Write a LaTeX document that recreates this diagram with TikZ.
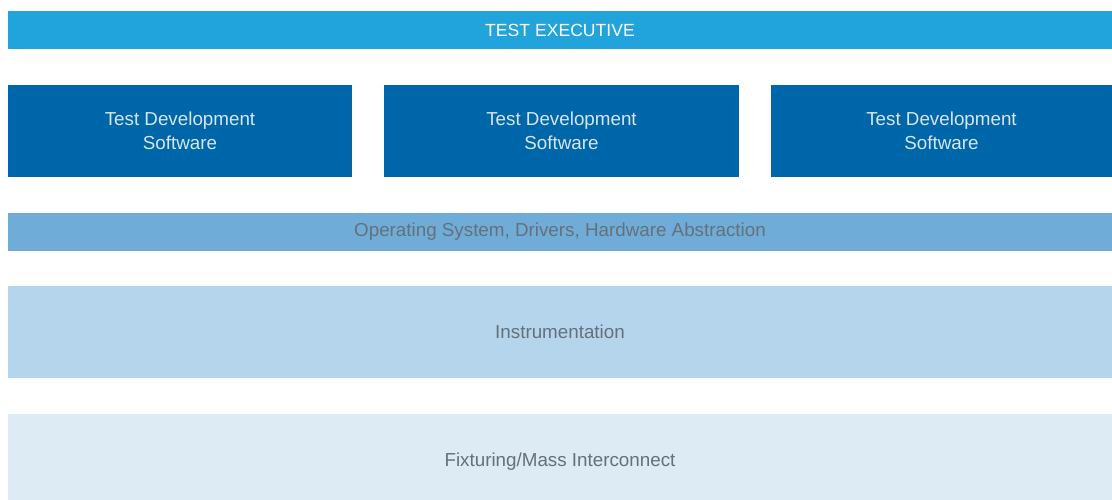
\documentclass[tikz,border=0pt]{standalone}
\usepackage{fontspec}
\setmainfont{Liberation Sans}
\definecolor{cExec}{HTML}{21A4DC}
\definecolor{cTds}{HTML}{0066AA}
\definecolor{cOs}{HTML}{6FADD8}
\definecolor{cInst}{HTML}{B4D5EB}
\definecolor{cFix}{HTML}{DDEBF5}
\definecolor{tGray}{HTML}{66707A}
\definecolor{tLight}{HTML}{D6E6F4}
\tikzset{
  layer/.style={anchor=north west, inner sep=0pt, outer sep=0pt, draw=none,
    font=\fontsize{18.8}{24}\selectfont, align=center},
}
\begin{document}
\begin{tikzpicture}[x=1pt,y=-1pt]
\useasboundingbox (0,0) rectangle (1112,499);
\begin{scope}
\clip (0,0) rectangle (1112,499);
\node[layer, fill=cExec, text=white, minimum width=1104pt, minimum height=38pt, font=\fontsize{17.6}{24}\selectfont] (exec) at (8,11) {TEST EXECUTIVE};
\node[layer, fill=cTds, text=tLight, minimum width=344pt, minimum height=92pt] (tds1) at (8,85) {Test Development\\Software};
\node[layer, fill=cTds, text=tLight, minimum width=355pt, minimum height=92pt] (tds2) at (384,85) {Test Development\\Software};
\node[layer, fill=cTds, text=tLight, minimum width=341pt, minimum height=92pt] (tds3) at (771,85) {Test Development\\Software};
\node[layer, fill=cOs, text=tGray, minimum width=1104pt, minimum height=38pt] (os) at (8,213) {Operating System, Drivers, Hardware Abstraction};
\node[layer, fill=cInst, text=tGray, minimum width=1104pt, minimum height=92pt] (inst) at (8,286) {Instrumentation};
\node[layer, fill=cFix, text=tGray, minimum width=1104pt, minimum height=95pt] (fix) at (8,414) {Fixturing/Mass Interconnect};
\end{scope}
\end{tikzpicture}
\end{document}
